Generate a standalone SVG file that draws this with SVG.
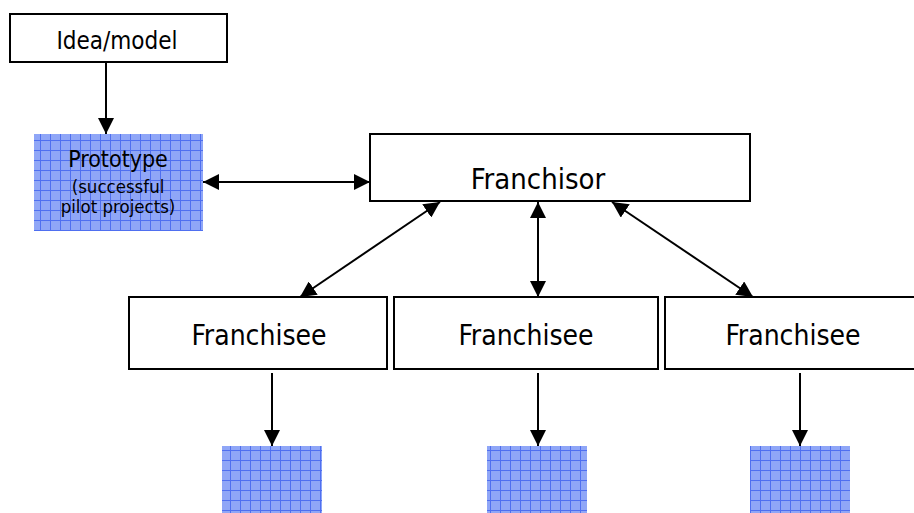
<svg xmlns="http://www.w3.org/2000/svg" width="914" height="513" viewBox="0 0 914 513">
<style>
.box{fill:#fff;stroke:#000;stroke-width:2}
.blue{fill:url(#grid)}
.t{font-family:"DejaVu Sans Condensed","DejaVu Sans",Verdana,sans-serif;font-stretch:condensed;fill:#000;text-anchor:middle}
.c{stroke:#000;stroke-width:2;fill:none}
</style>
<defs>
<pattern id="grid" width="10" height="10" patternUnits="userSpaceOnUse">
<rect width="10" height="10" fill="#8fa6f7"/>
<path d="M0 0.5H10M0.5 0V10" stroke="#4f6ff0" stroke-width="1"/>
</pattern>
<marker id="ah" viewBox="0 0 16 16" refX="16" refY="8" markerWidth="16" markerHeight="16" markerUnits="userSpaceOnUse" orient="auto-start-reverse">
<path d="M0 0L16 8L0 16Z" fill="#000"/>
</marker>
</defs>
<g id="idea"><rect class="box" x="10" y="14" width="217" height="48"/><text class="t" x="117" y="49" font-size="24">Idea/model</text></g>
<g id="prototype"><rect class="blue" x="34" y="134" width="169" height="97"/>
<text class="t" x="118" y="167" font-size="23">Prototype</text>
<text class="t" x="118" y="193" font-size="18.5">(successful</text>
<text class="t" x="118" y="213" font-size="18.5">pilot projects)</text></g>
<g id="franchisor"><rect class="box" x="370" y="134" width="380" height="67"/><text class="t" x="538" y="189" font-size="29">Franchisor</text></g>
<g id="franchisee1"><rect class="box" x="129" y="297" width="258" height="72"/><text class="t" x="259" y="345" font-size="28">Franchisee</text></g>
<g id="franchisee2"><rect class="box" x="394" y="297" width="264" height="72"/><text class="t" x="526" y="345" font-size="28">Franchisee</text></g>
<g id="franchisee3"><rect class="box" x="665" y="297" width="256" height="72"/><text class="t" x="793" y="345" font-size="28">Franchisee</text></g>
<g id="out1"><rect class="blue" x="222" y="446" width="100" height="67"/></g>
<g id="out2"><rect class="blue" x="487" y="446" width="100" height="67"/></g>
<g id="out3"><rect class="blue" x="750" y="446" width="100" height="67"/></g>
<g id="connectors">
<line class="c" x1="106" y1="62" x2="106" y2="134" marker-end="url(#ah)"/>
<line class="c" x1="203" y1="182" x2="370" y2="182" marker-start="url(#ah)" marker-end="url(#ah)"/>
<line class="c" x1="440" y1="202" x2="300" y2="297" marker-start="url(#ah)" marker-end="url(#ah)"/>
<line class="c" x1="538" y1="202" x2="538" y2="297" marker-start="url(#ah)" marker-end="url(#ah)"/>
<line class="c" x1="612" y1="202" x2="753" y2="297" marker-start="url(#ah)" marker-end="url(#ah)"/>
<line class="c" x1="272" y1="373" x2="272" y2="446" marker-end="url(#ah)"/>
<line class="c" x1="538" y1="373" x2="538" y2="446" marker-end="url(#ah)"/>
<line class="c" x1="800" y1="373" x2="800" y2="446" marker-end="url(#ah)"/>
</g>
</svg>
